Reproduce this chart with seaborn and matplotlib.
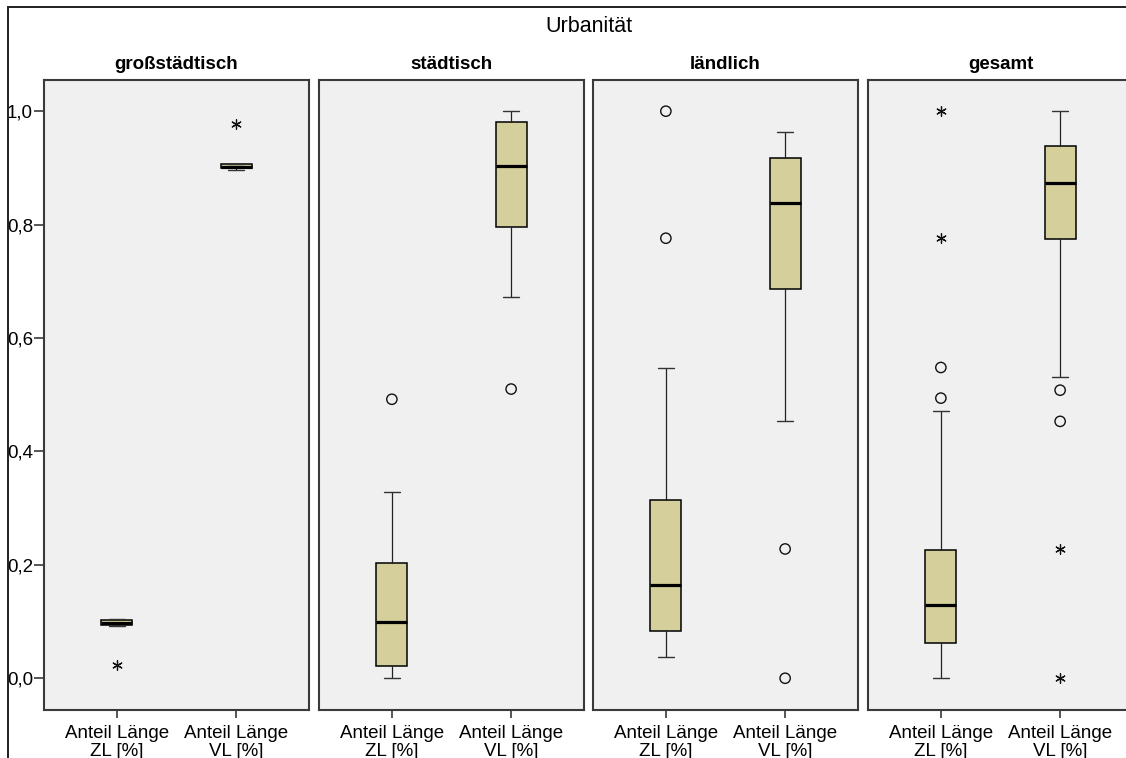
import matplotlib
matplotlib.use("Agg")
import matplotlib.pyplot as plt
from matplotlib.patches import Rectangle
import seaborn as sns

# Urbanity groups and the two measured shares
groups = ["großstädtisch", "städtisch", "ländlich", "gesamt"]
variables = ["Anteil Länge\nZL [%]", "Anteil Länge\nVL [%]"]

# Five-number summaries per group, share ZL
zl_whislo = [0.093, 0.000, 0.037, 0.000]
zl_q1 = [0.094, 0.021, 0.083, 0.062]
zl_med = [0.098, 0.099, 0.164, 0.129]
zl_q3 = [0.102, 0.203, 0.314, 0.226]
zl_whishi = [0.105, 0.328, 0.547, 0.471]
zl_outliers = [[], [0.492], [1.000, 0.776], [0.548, 0.494]]
zl_extremes = [[0.023], [], [], [1.000, 0.776]]

# Five-number summaries per group, share VL
vl_whislo = [0.896, 0.672, 0.453, 0.531]
vl_q1 = [0.899, 0.795, 0.686, 0.774]
vl_med = [0.902, 0.903, 0.838, 0.873]
vl_q3 = [0.907, 0.981, 0.917, 0.938]
vl_whishi = [0.907, 1.000, 0.963, 1.000]
vl_outliers = [[], [0.510], [0.228, 0.000], [0.508, 0.453]]
vl_extremes = [[0.977], [], [], [0.228, 0.000]]

y_ticks = [0.0, 0.2, 0.4, 0.6, 0.8, 1.0]
y_ticklabels = ["0,0", "0,2", "0,4", "0,6", "0,8", "1,0"]

sns.set_style("white")
plt.rcParams["font.family"] = ["Liberation Sans", "DejaVu Sans"]
plt.rcParams["text.color"] = "black"
plt.rcParams["xtick.labelcolor"] = "black"
plt.rcParams["ytick.labelcolor"] = "black"

W, H = 1126, 758
fig = plt.figure(figsize=(W / 100, H / 100), dpi=100)

BOX_FILL = "#d4cf9b"
PANEL_BG = "#f0f0f0"
SPINE = "#3a3a3a"

# outer frame
fig.patches.append(Rectangle((8 / W, -0.1), 1.2, (H - 7) / H + 0.1,
                             transform=fig.transFigure, fill=False,
                             edgecolor="#202020", linewidth=1.4, zorder=0))
fig.text(589 / W, 1 - 27 / H, "Urbanität", ha="center", va="center",
         fontsize=15.5, color="black")

panel_left = [44, 319, 593, 868]
panel_w, top, bottom = 265, 80, 710

for i, g in enumerate(groups):
    ax = fig.add_axes([panel_left[i] / W, (H - bottom) / H,
                       panel_w / W, (bottom - top) / H])
    ax.set_facecolor(PANEL_BG)
    stats = [
        dict(med=zl_med[i], q1=zl_q1[i], q3=zl_q3[i],
             whislo=zl_whislo[i], whishi=zl_whishi[i], fliers=[]),
        dict(med=vl_med[i], q1=vl_q1[i], q3=vl_q3[i],
             whislo=vl_whislo[i], whishi=vl_whishi[i], fliers=[]),
    ]
    ax.bxp(stats, positions=[1, 2], widths=0.26, capwidths=0.13,
           showfliers=False, patch_artist=True,
           boxprops=dict(facecolor=BOX_FILL, edgecolor="black", linewidth=1.1),
           medianprops=dict(color="black", linewidth=2.3, solid_capstyle="butt"),
           whiskerprops=dict(color="#222222", linewidth=0.9),
           capprops=dict(color="#333333", linewidth=1.0))

    for pos, outs, exts in [(1, zl_outliers[i], zl_extremes[i]),
                            (2, vl_outliers[i], vl_extremes[i])]:
        if outs:
            sns.scatterplot(x=[pos] * len(outs), y=outs, ax=ax, marker="o",
                            s=55, facecolor="none", edgecolor="#111111",
                            linewidth=1.0, zorder=5, legend=False)
        if exts:
            sns.scatterplot(x=[pos] * len(exts), y=exts, ax=ax,
                            marker=(6, 2, 0), s=48, color="#111111",
                            linewidth=0.9, zorder=5, legend=False)

    ax.set_xlim(0.389, 2.611)
    ax.set_ylim(-0.056, 1.055)
    ax.set_xticks([1, 2])
    ax.set_xticklabels(variables, fontsize=13.5, linespacing=1.05)
    ax.tick_params(axis="x", direction="out", length=6, width=1.2,
                   color=SPINE, pad=5, bottom=True, labelcolor="black")
    if i == 0:
        ax.set_yticks(y_ticks)
        ax.set_yticklabels(y_ticklabels, fontsize=13.5)
        ax.tick_params(axis="y", direction="out", length=7, width=1.2,
                       color=SPINE, pad=1, left=True, labelcolor="black")
    else:
        ax.set_yticks([])
    ax.set_xlabel("")
    ax.set_ylabel("")
    for s in ax.spines.values():
        s.set_color(SPINE)
        s.set_linewidth(1.5)
    ax.set_title(g, fontsize=13.5, fontweight="bold", pad=8, color="black")

fig.savefig("out.png", dpi=100)
